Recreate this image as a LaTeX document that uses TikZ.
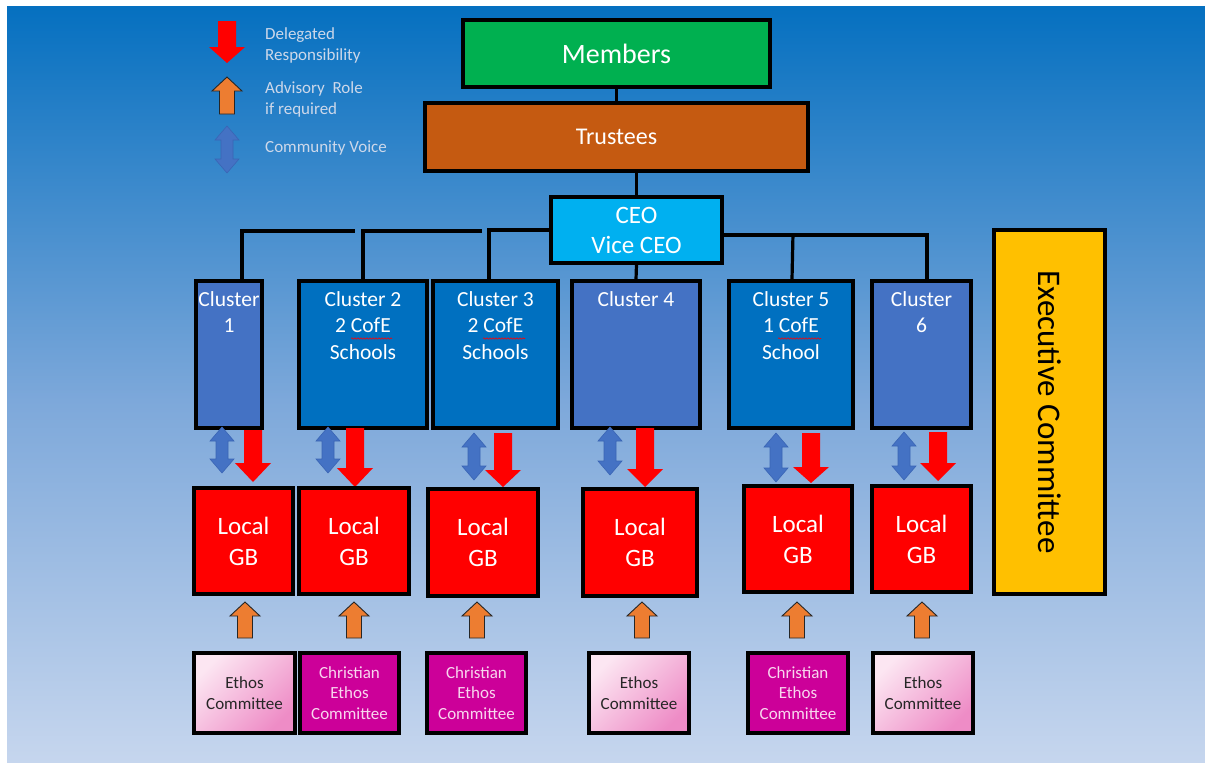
\documentclass[tikz,border=0pt]{standalone}
\usepackage{fontspec}
\setmainfont{Carlito}
\usetikzlibrary{decorations.pathmorphing}
\definecolor{bgA}{RGB}{5,112,192}
\definecolor{bgB}{RGB}{125,168,218}
\definecolor{bgC}{RGB}{198,214,238}
\definecolor{memgreen}{HTML}{00B050}
\definecolor{trustbrown}{HTML}{C55A11}
\definecolor{ceoblue}{HTML}{00B0F0}
\definecolor{clA}{HTML}{4472C4}
\definecolor{clB}{HTML}{0070C0}
\definecolor{lgbred}{HTML}{FF0000}
\definecolor{execgold}{HTML}{FFC000}
\definecolor{chrmag}{HTML}{CC0099}
\definecolor{chrtxt}{HTML}{F8D6EE}
\definecolor{pinkA}{HTML}{FCE6F2}
\definecolor{pinkB}{HTML}{EE8CC6}
\definecolor{arrblue}{HTML}{4472C4}
\definecolor{arrblueline}{HTML}{3A65B5}
\definecolor{arrorange}{HTML}{ED7D31}
\definecolor{legtext}{RGB}{205,216,234}
\definecolor{darktxt}{HTML}{262626}
\newcommand\myredarr[4]{%
  \fill[lgbred] (#1-9,#2) -- (#1+9,#2) -- (#1+9,#3) -- (#1+18,#3) -- (#1,#4) -- (#1-18,#3) -- (#1-9,#3) -- cycle;}
\newcommand\mybluearr[3]{%
  \filldraw[fill=arrblue, draw=arrblueline, line width=0.6pt] (#1,#2) -- (#1+12,#2+14) -- (#1+6,#2+14) -- (#1+6,#3-14) -- (#1+12,#3-14) -- (#1,#3) -- (#1-12,#3-14) -- (#1-6,#3-14) -- (#1-6,#2+14) -- (#1-12,#2+14) -- cycle;}
\newcommand\myorarr[3]{%
  \filldraw[fill=arrorange, draw=darktxt, line width=0.9pt] (#1,#2) -- (#1+15,#2+14) -- (#1+7.5,#2+14) -- (#1+7.5,#3) -- (#1-7.5,#3) -- (#1-7.5,#2+14) -- (#1-15,#2+14) -- cycle;}
\begin{document}
\begin{tikzpicture}[x=1pt,y=-1pt,
  box/.style={draw=black, line width=3.3pt, inner sep=0pt, align=center, text=white},
  conn/.style={draw=black, line width=3.2pt},
  cltxt/.style={inner sep=0pt, align=center, text=white, font=\fontsize{21.5}{26.5}\selectfont},
  lgbbox/.style={box, fill=lgbred, font=\fontsize{25}{31}\selectfont},
  ethbox/.style={box, minimum height=80, top color=pinkA, bottom color=pinkB, shading angle=45, text=darktxt, font=\fontsize{17}{20.5}\selectfont},
  chrbox/.style={box, minimum height=80, fill=chrmag, text=chrtxt, font=\fontsize{17}{20.5}\selectfont},
  legtxt/.style={inner sep=0pt, align=left, text=legtext, font=\fontsize{17}{21}\selectfont},
  spell/.style={draw=red, line width=0.6pt, decorate, decoration={snake, amplitude=0.7pt, segment length=3pt}}]
\useasboundingbox (0,0) rectangle (1205,763);
\fill[white] (0,0) rectangle (1205,763);
\shade[top color=bgA, bottom color=bgB] (7,6) rectangle (1205,400.5);
\shade[top color=bgB, bottom color=bgC] (7,400) rectangle (1205,763);

% legend
\myredarr{227}{21}{47}{63}
\myorarr{227}{77}{114}
\mybluearr{227}{126}{173}
\node[legtxt, anchor=north west] (leg1) at (265,27) {Delegated\\Responsibility};
\node[legtxt, anchor=north west] (leg2) at (265,81) {Advisory\ \ Role\\if required};
\node[legtxt, anchor=north west] (leg3) at (265,141) {Community Voice};

% connectors
\coordinate (j1) at (355,231);
\coordinate (j2) at (482,231);

% top boxes
\node[box, fill=memgreen, minimum width=307, minimum height=67, font=\fontsize{28}{34}\selectfont] (members) at (616.5,53.5) {Members};
\node[box, fill=trustbrown, minimum width=383, minimum height=68, font=\fontsize{24}{30}\selectfont] (trustees) at (616.5,137) {Trustees};
\node[box, fill=ceoblue, minimum width=171, minimum height=66, font=\fontsize{25}{30}\selectfont] (ceo) at (636.5,230) {CEO\\Vice CEO};

% clusters
\node[box, fill=clA, minimum width=66, minimum height=147] (c1) at (229,354.5) {};
\node[box, fill=clB, minimum width=128, minimum height=147] (c2) at (363,354.5) {};
\node[box, fill=clB, minimum width=125, minimum height=147] (c3) at (495.5,354.5) {};
\node[box, fill=clA, minimum width=128, minimum height=147] (c4) at (636,354.5) {};
\node[box, fill=clB, minimum width=124, minimum height=147] (c5) at (791,354.5) {};
\node[box, fill=clA, minimum width=99, minimum height=147] (c6) at (921.5,354.5) {};
\node[cltxt, anchor=north] (c1t) at ([yshift=-12pt]c1.north) {Cluster\\1};
\node[cltxt, anchor=north] (c2t) at ([yshift=-12pt]c2.north) {Cluster 2\\2 CofE\\Schools};
\node[cltxt, anchor=north] (c3t) at ([yshift=-12pt]c3.north) {Cluster 3\\2 CofE\\Schools};
\node[cltxt, anchor=north] (c4t) at ([yshift=-12pt]c4.north) {Cluster 4};
\node[cltxt, anchor=north] (c5t) at ([yshift=-12pt]c5.north) {Cluster 5\\1 CofE\\School};
\node[cltxt, anchor=north] (c6t) at ([yshift=-12pt]c6.north) {Cluster\\6};
\draw[spell] (351,338.5) -- (392,338.5);
\draw[spell] (483,338.5) -- (525,338.5);
\draw[spell] (778,338.5) -- (821,338.5);

% executive committee
\node[box, fill=execgold, minimum width=111, minimum height=364] (exec) at (1049.5,412) {};
\node[rotate=-90, inner sep=0pt, text=black, font=\fontsize{33}{40}\selectfont] (exect) at (exec.center) {Executive Committee};

% connector lines
\draw[conn] (members.south) -- (trustees.north);
\draw[conn] (ceo.north) -- (ceo.north |- trustees.south);
\draw[conn] (ceo.south) -- (c4.north);
\draw[conn] ([xshift=13pt]c1.north) |- (j1);
\draw[conn] (c2.north) |- (j2);
\draw[conn] ([xshift=-6.5pt]c3.north) |- (ceo.west);
\draw[conn] ([yshift=-5pt]ceo.east) -| ([xshift=5.5pt]c6.north);
\draw[conn] ([xshift=1pt]c5.north) -- ([xshift=2pt,yshift=46pt]c5.north);

% arrows cluster -> local GB
\mybluearr{222}{427}{473}
\mybluearr{328}{427}{473}
\mybluearr{474}{433}{480}
\mybluearr{610}{427}{475}
\mybluearr{776}{433}{482}
\mybluearr{904}{432}{480}
\myredarr{253}{430}{463}{482}
\myredarr{355}{428}{468}{487}
\myredarr{503}{433}{470}{487}
\myredarr{645}{428}{469}{487}
\myredarr{811}{433}{467}{483}
\myredarr{938}{432}{463}{481}

% local GBs
\node[lgbbox, minimum width=99, minimum height=106] (g1) at (243.5,541) {Local\\GB};
\node[lgbbox, minimum width=110, minimum height=106] (g2) at (354,541) {Local\\GB};
\node[lgbbox, minimum width=110, minimum height=107] (g3) at (483,542.5) {Local\\GB};
\node[lgbbox, minimum width=114, minimum height=107] (g4) at (640,542.5) {Local\\GB};
\node[lgbbox, minimum width=108, minimum height=106] (g5) at (798,539) {Local\\GB};
\node[lgbbox, minimum width=99, minimum height=106] (g6) at (921.5,539) {Local\\GB};

% advisory arrows
\myorarr{245}{602}{638}
\myorarr{354}{602}{638}
\myorarr{477}{602}{638}
\myorarr{642}{602}{638}
\myorarr{797}{602}{638}
\myorarr{922}{602}{638}

% ethos committees
\node[ethbox, minimum width=101] (e1) at (244.5,693) {Ethos\\Committee};
\node[chrbox, minimum width=99] (e2) at (349.5,693) {Christian\\Ethos\\Committee};
\node[chrbox, minimum width=99] (e3) at (476.5,693) {Christian\\Ethos\\Committee};
\node[ethbox, minimum width=100] (e4) at (639,693) {Ethos\\Committee};
\node[chrbox, minimum width=100] (e5) at (798,693) {Christian\\Ethos\\Committee};
\node[ethbox, minimum width=100] (e6) at (923,693) {Ethos\\Committee};
\end{tikzpicture}
\end{document}
